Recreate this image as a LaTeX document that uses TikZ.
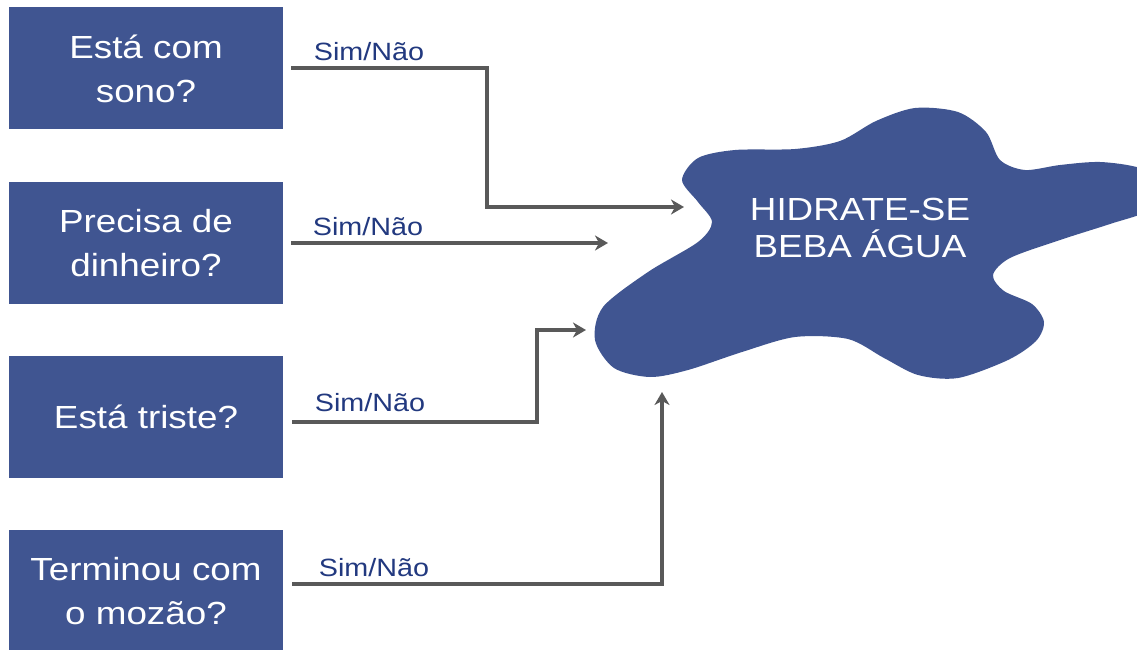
\documentclass[tikz,border=0pt]{standalone}
\usepackage{fontspec}
\setmainfont[FakeStretch=1.15]{Liberation Sans}
\usepackage{tikz}
\usetikzlibrary{arrows.meta}

\definecolor{slateblue}{HTML}{405591}
\definecolor{linegray}{HTML}{595959}
\definecolor{labelblue}{HTML}{22397F}

\begin{document}
\begin{tikzpicture}[x=1pt, y=-1pt,
  question/.style={fill=slateblue, text=white, minimum width=274pt, minimum height=122pt,
    align=center, font=\fontsize{32}{44}\selectfont, inner sep=0pt},
  answer/.style={text=labelblue, font=\fontsize{25}{30}\selectfont, inner sep=0pt},
  conn/.style={draw=linegray, line width=4pt, -{Stealth[length=13pt,width=15pt,inset=4pt]}}]
\useasboundingbox (0,0) rectangle (1137,650);

\begin{scope}
\clip (0,0) rectangle (1137,650);
\fill[slateblue] plot[smooth cycle] coordinates {
  (682,180) (698,158) (735,150) (795,149) (840,141) (876,121) (915,108) (958,112)
  (986,132) (1000,160) (1025,170) (1060,165) (1100,162) (1140,168) (1170,185)
  (1150,210) (1110,224) (1060,240) (1010,258) (993,275) (1004,291)
  (1032,304) (1044,322) (1036,341) (1008,360) (958,378) (918,375) (884,358)
  (848,339) (795,337) (742,352) (688,370) (650,377) (614,368) (595,340) (603,307)
  (648,272) (698,242) (712,222) (698,202)};
\end{scope}
\node[text=white, align=center, font=\fontsize{32}{37}\selectfont] (msg) at (860,228) {HIDRATE-SE\\BEBA ÁGUA};

\node[question] (q1) at (146,68.5) {Está com\\sono?};
\node[question] (q2) at (146,243) {Precisa de\\dinheiro?};
\node[question] (q3) at (146,417) {Está triste?};
\node[question] (q4) at (146,591) {Terminou com\\o mozão?};

\coordinate (in1) at (684,207);
\coordinate (in2) at (608,243);
\coordinate (in3) at (586,330);
\coordinate (in4) at (662,392);

\draw[conn] ([xshift=8]q1.east) -- ++(196,0) |- (in1);
\draw[conn] ([xshift=8]q2.east) -- (in2);
\draw[conn] ([shift={(9,5)}]q3.east) -- ++(245,0) |- (in3);
\draw[conn] ([shift={(9,-7)}]q4.east) -| (in4);

\node[answer] (a1) at (369,52) {Sim/Não};
\node[answer] (a2) at (368,227) {Sim/Não};
\node[answer] (a3) at (370,403) {Sim/Não};
\node[answer] (a4) at (374,568) {Sim/Não};
\end{tikzpicture}
\end{document}
